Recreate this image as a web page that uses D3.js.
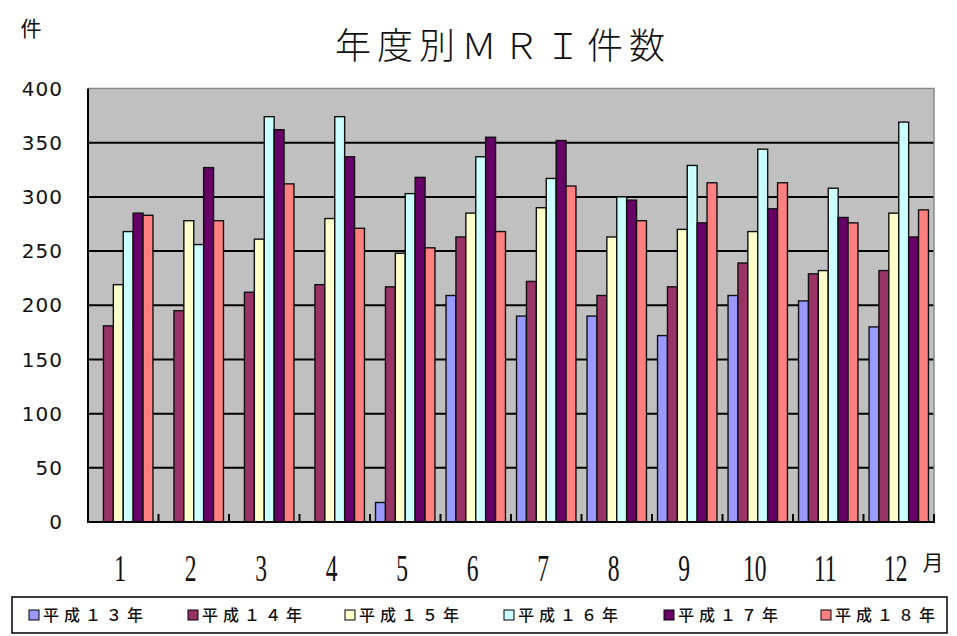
<!DOCTYPE html>
<html>
<head>
<meta charset="utf-8">
<script src="https://cdn.jsdelivr.net/npm/d3@7"></script>
<style>
  html, body { margin: 0; padding: 0; background: #fff; }
  svg { display: block; }
</style>
</head>
<body>
<svg id="chart" width="957" height="636"></svg>
<script>
// Monthly MRI counts by fiscal year
const months = ["1", "2", "3", "4", "5", "6", "7", "8", "9", "10", "11", "12"];
const seriesNames = ["平成１３年", "平成１４年", "平成１５年", "平成１６年", "平成１７年", "平成１８年"];
const h13 = [0, 0, 0, 0, 18, 209, 190, 190, 172, 209, 204, 180];
const h14 = [181, 195, 212, 219, 217, 263, 222, 209, 217, 239, 229, 232];
const h15 = [219, 278, 261, 280, 248, 285, 290, 263, 270, 268, 232, 285];
const h16 = [268, 256, 374, 374, 303, 337, 317, 300, 329, 344, 308, 369];
const h17 = [285, 327, 362, 337, 318, 355, 352, 297, 276, 289, 281, 263];
const h18 = [283, 278, 312, 271, 253, 268, 310, 278, 313, 313, 276, 288];
const yTicks = [0, 50, 100, 150, 200, 250, 300, 350, 400];
const colors = ["#9999ff", "#993366", "#ffffcc", "#ccffff", "#660066", "#ff8080"];

const seriesValues = [h13, h14, h15, h16, h17, h18];

const svg = d3.select("#chart");
const plot = { left: 88, right: 934, top: 88.5, bottom: 522 };

const x0 = d3.scaleBand().domain(months).range([plot.left, plot.right]).padding(0);
const x1 = d3.scaleBand().domain(seriesNames).range([0, x0.bandwidth()])
  .paddingInner(0).paddingOuter(0.56);
const y = d3.scaleLinear().domain([0, 400]).range([plot.bottom, plot.top]);
const color = d3.scaleOrdinal().domain(seriesNames).range(colors);

// plot area
svg.append("rect")
  .attr("x", plot.left).attr("y", plot.top)
  .attr("width", plot.right - plot.left).attr("height", plot.bottom - plot.top)
  .attr("fill", "#c0c0c0");

// horizontal gridlines
svg.append("g").selectAll("line")
  .data(yTicks.filter(t => t > 0 && t < 400))
  .join("line")
  .attr("x1", plot.left).attr("x2", plot.right)
  .attr("y1", d => y(d)).attr("y2", d => y(d))
  .attr("stroke", "#000").attr("stroke-width", 2);

// top and right border
svg.append("path")
  .attr("d", `M${plot.left},${y(400)}H${plot.right}V${plot.bottom}`)
  .attr("fill", "none").attr("stroke", "#8a8a8a").attr("stroke-width", 1.5);

// bars
const rows = months.map((m, i) => ({ month: m, vals: seriesNames.map((s, k) => ({ s, v: seriesValues[k][i] })) }));
svg.append("g").selectAll("g")
  .data(rows)
  .join("g")
  .attr("transform", d => `translate(${x0(d.month)},0)`)
  .selectAll("rect")
  .data(d => d.vals.filter(e => e.v > 0))
  .join("rect")
  .attr("x", d => x1(d.s))
  .attr("y", d => y(d.v))
  .attr("width", x1.bandwidth())
  .attr("height", d => y(0) - y(d.v))
  .attr("fill", d => color(d.s))
  .attr("stroke", "#111")
  .attr("stroke-width", 1.4);

// axes lines
svg.append("line")
  .attr("x1", plot.left).attr("x2", plot.left)
  .attr("y1", plot.top).attr("y2", plot.bottom + 1)
  .attr("stroke", "#000").attr("stroke-width", 2);
svg.append("line")
  .attr("x1", plot.left - 1).attr("x2", plot.right + 1)
  .attr("y1", plot.bottom).attr("y2", plot.bottom)
  .attr("stroke", "#000").attr("stroke-width", 2);

// category tick marks (inside)
svg.append("g").selectAll("line")
  .data(months.slice(1).map(m => x0(m)).concat([plot.right]))
  .join("line")
  .attr("x1", d => d).attr("x2", d => d)
  .attr("y1", plot.bottom).attr("y2", plot.bottom - 8)
  .attr("stroke", "#000").attr("stroke-width", 2);

// y-axis labels
svg.append("g").selectAll("text")
  .data(yTicks)
  .join("text")
  .attr("x", 63)
  .attr("y", d => y(d))
  .attr("dy", "0.36em")
  .attr("text-anchor", "end")
  .attr("font-family", "DejaVu Sans, sans-serif")
  .attr("font-size", 20)
  .attr("letter-spacing", 1)
  .attr("fill", "#111")
  .text(d => d);

// x-axis labels (tall, narrow digits)
svg.append("g").selectAll("text")
  .data(months)
  .join("text")
  .attr("transform", d => `translate(${x0(d) + x0.bandwidth() / 2 - 3},581) scale(0.62,1)`)
  .attr("text-anchor", "middle")
  .attr("font-family", "Liberation Serif, serif")
  .attr("font-size", 38)
  .attr("fill", "#111")
  .text(d => d);

// unit labels
svg.append("text")
  .attr("x", 31).attr("y", 36)
  .attr("text-anchor", "middle")
  .attr("font-family", "Noto Sans CJK JP, sans-serif")
  .attr("font-size", 21)
  .attr("fill", "#111")
  .text("件");
svg.append("text")
  .attr("x", 933).attr("y", 570)
  .attr("text-anchor", "middle")
  .attr("font-family", "Noto Sans CJK JP, sans-serif")
  .attr("font-size", 21)
  .attr("fill", "#111")
  .text("月");

// title
svg.append("text")
  .attr("x", 335).attr("y", 59)
  .attr("font-family", "Noto Sans CJK JP, sans-serif")
  .attr("font-weight", 300)
  .attr("font-size", 36)
  .attr("textLength", 330)
  .attr("lengthAdjust", "spacing")
  .attr("fill", "#111")
  .text("年度別ＭＲＩ件数");

// legend
const legend = svg.append("g");
legend.append("rect")
  .attr("x", 12).attr("y", 597).attr("width", 935).attr("height", 36)
  .attr("fill", "#fff").attr("stroke", "#000").attr("stroke-width", 1.5);
const legendX = [29, 188, 345, 504, 664, 821];
const items = legend.selectAll("g.item")
  .data(seriesNames)
  .join("g")
  .attr("class", "item")
  .attr("transform", (d, i) => `translate(${legendX[i]},615)`);
items.append("rect")
  .attr("x", 0).attr("y", -5).attr("width", 10).attr("height", 10)
  .attr("fill", d => color(d)).attr("stroke", "#000").attr("stroke-width", 1);
items.append("text")
  .attr("x", 14).attr("y", 0).attr("dy", "0.35em")
  .attr("font-family", "Noto Sans CJK JP, sans-serif")
  .attr("font-size", 16)
  .attr("font-weight", 500)
  .attr("textLength", 100)
  .attr("lengthAdjust", "spacing")
  .attr("fill", "#111")
  .text(d => d);
</script>
</body>
</html>
